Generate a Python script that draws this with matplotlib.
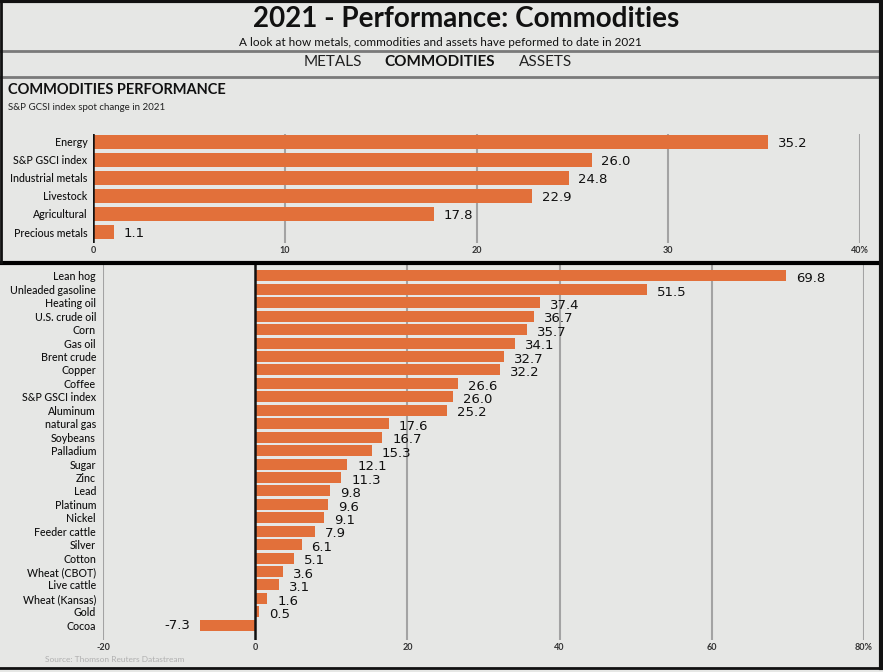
import matplotlib
matplotlib.use('Agg')
import matplotlib.pyplot as plt
from matplotlib.lines import Line2D

# datos do grafico de cima (indice S&P GSCI por setor)
setores = ['Energy', 'S&P GSCI index', 'Industrial metals', 'Livestock', 'Agricultural', 'Precious metals']
setores_val = [35.2, 26.0, 24.8, 22.9, 17.8, 1.1]
ticks_cima = [0, 10, 20, 30, 40]
ticks_cima_lbl = ['0', '10', '20', '30', '40%']

# datos do grafico de baixo (commodities individuais)
commodities = ['Lean hog', 'Unleaded gasoline', 'Heating oil', 'U.S. crude oil', 'Corn', 'Gas oil',
               'Brent crude', 'Copper', 'Coffee', 'S&P GSCI index', 'Aluminum', 'natural gas',
               'Soybeans', 'Palladium', 'Sugar', 'Zinc', 'Lead', 'Platinum', 'Nickel',
               'Feeder cattle', 'Silver', 'Cotton', 'Wheat (CBOT)', 'Live cattle',
               'Wheat (Kansas)', 'Gold', 'Cocoa']
commodities_val = [69.8, 51.5, 37.4, 36.7, 35.7, 34.1, 32.7, 32.2, 26.6, 26.0, 25.2, 17.6,
                   16.7, 15.3, 12.1, 11.3, 9.8, 9.6, 9.1, 7.9, 6.1, 5.1, 3.6, 3.1, 1.6, 0.5, -7.3]
ticks_baixo = [-20, 0, 20, 40, 60, 80]
ticks_baixo_lbl = ['-20', '0', '20', '40', '60', '80%']

W, H = 883, 672
fundo = '#e6e7e5'
laranja = '#e2703a'

fig = plt.figure(figsize=(W / 100, H / 100), dpi=100, facecolor=fundo)


def eixo_px(l, t, r, b):
    return fig.add_axes([l / W, 1 - b / H, (r - l) / W, (b - t) / H])


def linha(x0, y0, x1, y1, cor, lw):
    fig.add_artist(Line2D([x0 / W, x1 / W], [1 - y0 / H, 1 - y1 / H],
                          transform=fig.transFigure, color=cor, lw=lw))


def texto(x, y, s, **kw):
    fig.text(x / W, 1 - y / H, s, **kw)


# cabecalho
texto(466, 19, '2021 - Performance: Commodities', ha='center', va='center',
      fontsize=20, fontweight='bold', family='Lato', color='#111111')
texto(440, 43, 'A look at how metals, commodities and assets have peformed to date in 2021',
      ha='center', va='center', fontsize=8.5, family='Lato', color='#111111')
texto(333, 62, 'METALS', ha='center', va='center', fontsize=11, family='Lato', color='#222222')
texto(440, 62, 'COMMODITIES', ha='center', va='center', fontsize=11, family='Lato',
      fontweight='bold', color='#111111')
texto(546, 62, 'ASSETS', ha='center', va='center', fontsize=11, family='Lato', color='#222222')

texto(8, 90, 'COMMODITIES PERFORMANCE', ha='left', va='center', fontsize=10.5,
      fontweight='bold', family='Lato', color='#111111')
texto(8, 108, 'S&P GCSI index spot change in 2021', ha='left', va='center',
      fontsize=7, family='Lato', color='#222222')
texto(45, 660, 'Source: Thomson Reuters Datastream', ha='left', va='center',
      fontsize=6, family='Lato', color='#b0b0b0')

# bordas
linha(0, 1, 883, 1, '#111111', 3)
linha(0, 51, 883, 51, '#7a7a7a', 2)
linha(0, 77, 883, 77, '#7a7a7a', 2)
linha(0, 262.5, 883, 262.5, '#000000', 3)
linha(881, 0, 881, 668, '#111111', 3)
linha(0, 668, 883, 668, '#111111', 2)
linha(1, 0, 1, 262, '#111111', 2)

# grafico de cima
ax1 = eixo_px(93, 134, 860, 243)
y1 = list(range(len(setores)))
ax1.barh(y1, setores_val, height=0.78, color=laranja, zorder=3)
ax1.set_xlim(0, 40)
ax1.set_ylim(5.61, -0.44)
ax1.set_xticks(ticks_cima)
ax1.set_xticklabels(ticks_cima_lbl)
ax1.set_yticks(y1)
ax1.set_yticklabels(setores)
for v in ticks_cima[1:]:
    ax1.axvline(v, color='#a3a3a3', lw=1.5, zorder=1)
ax1.axvline(0, color='#111111', lw=1.8, zorder=4)
for i, v in enumerate(setores_val):
    ax1.text(v + 0.5, i + 0.1, f'{v:.1f}', va='center', ha='left',
             fontsize=9.5, family='DejaVu Sans', color='#111111')
ax1.tick_params(axis='x', length=0, pad=2, labelsize=6.5, labelcolor='#333333')
ax1.tick_params(axis='y', length=0, pad=4, labelsize=7.7, labelcolor='#111111')

# grafico de baixo
ax2 = eixo_px(103, 264, 864, 640)
y2 = list(range(len(commodities)))
ax2.barh(y2, commodities_val, height=0.82, color=laranja, zorder=3)
ax2.set_xlim(-20, 80)
ax2.set_ylim(27.1, -0.89)
ax2.set_xticks(ticks_baixo)
ax2.set_xticklabels(ticks_baixo_lbl)
ax2.set_yticks(y2)
ax2.set_yticklabels(commodities)
for v in ticks_baixo:
    if v != 0:
        ax2.axvline(v, color='#a3a3a3', lw=1.5, zorder=1)
ax2.axvline(0, color='#111111', lw=1.8, zorder=4)
for i, v in enumerate(commodities_val):
    if v >= 0:
        ax2.text(v + 1.3, i + 0.2, f'{v:.1f}', va='center', ha='left',
                 fontsize=9.5, family='DejaVu Sans', color='#111111', zorder=5)
    else:
        ax2.text(v - 1.3, i, f'{v:.1f}', va='center', ha='right',
                 fontsize=9.5, family='DejaVu Sans', color='#111111', zorder=5)
ax2.tick_params(axis='x', length=0, pad=2, labelsize=6.5, labelcolor='#333333')
ax2.tick_params(axis='y', length=0, pad=5, labelsize=7.7, labelcolor='#111111')

for ax in (ax1, ax2):
    ax.set_facecolor('none')
    for s in ax.spines.values():
        s.set_visible(False)
    for lbl in ax.get_xticklabels():
        lbl.set_family('Lato')
        lbl.set_fontweight('bold')
    for lbl in ax.get_yticklabels():
        lbl.set_family('Lato')
        lbl.set_fontweight('medium')

fig.savefig('out.png', dpi=100, facecolor=fundo)
